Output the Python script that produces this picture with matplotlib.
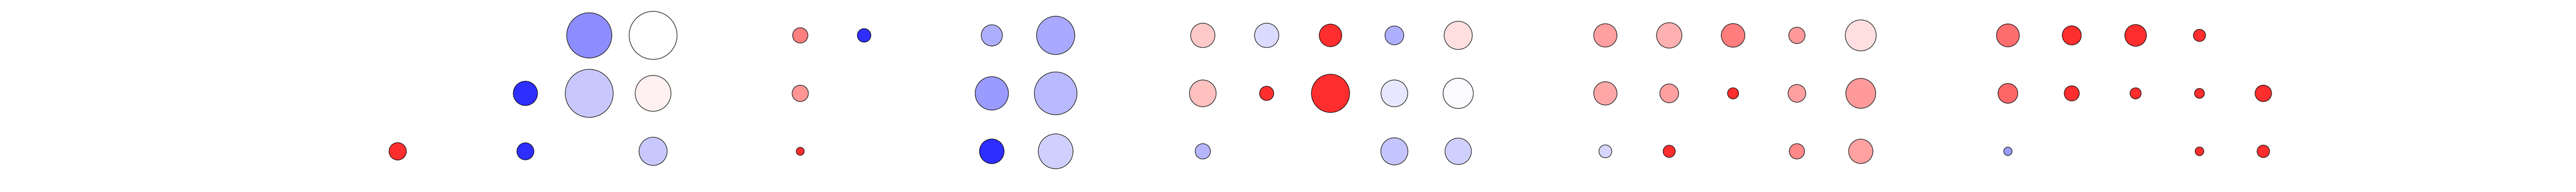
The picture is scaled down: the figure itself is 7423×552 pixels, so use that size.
import numpy as np
import matplotlib
matplotlib.use("Agg")
import matplotlib.pyplot as plt

nan = np.nan

# 5 panels, each a 3 x 5 grid of cells (rows top -> bottom, columns left -> right)
row_labels = ["r1", "r2", "r3"]
col_labels = ["c1", "c2", "c3", "c4", "c5"]

# colour value (-1 blue .. +1 red), NaN = no bubble
fold_g1 = [[nan, nan, nan, -0.54, 0.00],
           [nan, nan, -1.0, -0.26, 0.07],
           [1.0, nan, -1.0, nan, -0.26]]
fold_g2 = [[0.61, -1.0, nan, -0.39, -0.41],
           [0.50, nan, nan, -0.48, -0.33],
           [1.0, nan, nan, -1.0, -0.22]]
fold_g3 = [[0.25, -0.17, 1.0, -0.38, 0.15],
           [0.30, 1.0, 1.0, -0.11, -0.02],
           [-0.35, nan, nan, -0.28, -0.22]]
fold_g4 = [[0.46, 0.37, 0.62, 0.48, 0.15],
           [0.42, 0.46, 1.0, 0.46, 0.48],
           [-0.19, 1.0, nan, 0.57, 0.45]]
fold_g5 = [[0.69, 1.0, 1.0, 1.0, nan],
           [0.73, 1.0, 1.0, 1.0, 1.0],
           [-0.48, nan, nan, 1.0, 1.0]]

# bubble score (drives marker diameter)
score_g1 = [[nan, nan, nan, 13.0, 13.8],
            [nan, nan, 7.0, 13.8, 10.3],
            [5.0, nan, 4.9, nan, 8.1]]
score_g2 = [[4.4, 3.9, nan, 6.1, 11.0],
            [4.7, nan, nan, 9.6, 12.3],
            [2.3, nan, nan, 7.1, 10.0]]
score_g3 = [[7.0, 7.0, 6.5, 5.4, 8.1],
            [7.7, 4.1, 11.0, 7.7, 8.7],
            [4.4, nan, nan, 7.8, 7.6]]
score_g4 = [[6.7, 7.3, 6.8, 4.7, 8.9],
            [6.7, 5.4, 3.2, 5.1, 8.6],
            [3.7, 3.5, nan, 4.4, 7.0]]
score_g5 = [[6.6, 5.5, 6.25, 3.5, nan],
            [5.7, 4.35, 3.2, 2.85, 4.75],
            [2.4, nan, nan, 2.5, 3.6]]

folds = [fold_g1, fold_g2, fold_g3, fold_g4, fold_g5]
scores = [score_g1, score_g2, score_g3, score_g4, score_g5]

W, H = 7424, 552
fig, axes = plt.subplots(1, 5, figsize=(W / 100, H / 100), dpi=100)
fig.subplots_adjust(left=1054 / W, right=6614 / W, top=1 - 18.4 / H,
                    bottom=1 - 518.4 / H, wspace=240 / 920)

cmap = plt.get_cmap("bwr")
norm = plt.Normalize(vmin=-1, vmax=1)

for ax, fold, score in zip(axes, folds, scores):
    fold = np.array(fold)
    score = np.array(score)
    yy, xx = np.meshgrid(np.arange(len(row_labels)), np.arange(len(col_labels)), indexing="ij")
    mask = ~np.isnan(fold)
    colors = cmap(norm(fold[mask]))
    colors[:, 3] = 0.82
    # score -> diameter in points -> area
    sizes = (score[mask] * 7.2) ** 2
    ax.scatter(xx[mask], yy[mask], s=sizes, c=colors, edgecolors="black", linewidths=1.1)
    ax.set_xlim(-0.5, len(col_labels) - 0.5)
    ax.set_ylim(len(row_labels) - 0.5, -0.5)
    ax.axis("off")

plt.savefig("out.png", dpi=100)
